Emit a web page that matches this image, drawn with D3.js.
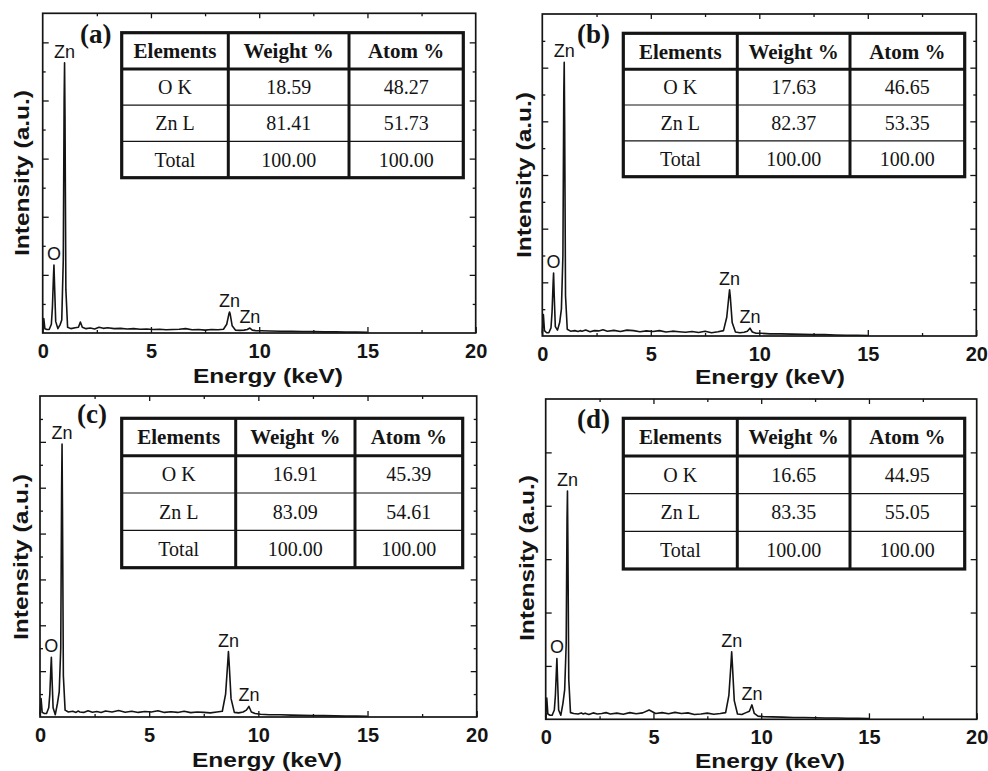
<!DOCTYPE html>
<html>
<head>
<meta charset="utf-8">
<script src="https://cdn.jsdelivr.net/npm/d3@7"></script>
<style>
  html, body { margin: 0; padding: 0; background: #fff; }
  svg { display: block; }
</style>
</head>
<body>
<svg id="chart" width="988" height="771"></svg>
<script>
// ---------------- DATA ----------------
const energyKeV = [0, 0.05, 0.1, 0.2, 0.3, 0.4, 0.45, 0.5, 0.52, 0.55, 0.6, 0.7, 0.8, 0.88, 0.95, 0.99, 1.01, 1.03, 1.07, 1.15,
  1.3, 1.5, 1.65, 1.74, 1.83, 2.0, 2.2, 2.4, 2.6, 2.8, 3.0, 3.3, 3.6, 3.9, 4.2, 4.5, 4.8, 5.1, 5.4, 5.7,
  6.0, 6.3, 6.6, 6.9, 7.2, 7.5, 7.8, 8.1, 8.35, 8.5, 8.6, 8.63, 8.66, 8.75, 8.9, 9.1, 9.3, 9.45, 9.57, 9.68,
  9.85, 10.1, 10.5, 11.0, 11.5, 12.0, 12.5, 13.0, 13.5, 14.0, 14.5, 15.0];

const intensityA = [0.1, 0.5, 0.15, 0.12, 0.12, 0.3, 0.9, 2.0, 2.34, 1.6,
  0.4, 0.15, 0.28, 0.45, 2.5, 8.0, 9.3, 7.5, 1.5, 0.2,
  0.15, 0.18, 0.2, 0.38, 0.2, 0.15, 0.17, 0.14, 0.2, 0.16,
  0.18, 0.15, 0.16, 0.14, 0.15, 0.13, 0.14, 0.12, 0.13, 0.11,
  0.12, 0.13, 0.15, 0.11, 0.12, 0.1, 0.12, 0.11, 0.13, 0.3,
  0.65, 0.72, 0.65, 0.25, 0.1, 0.09, 0.1, 0.12, 0.17, 0.1,
  0.08, 0.08, 0.07, 0.06, 0.06, 0.05, 0.05, 0.04, 0.04, 0.03,
  0.03, 0.02];

const intensityB = [0.1, 0.8, 0.2, 0.12, 0.12, 0.3, 0.9, 2.0, 2.35, 1.5,
  0.35, 0.22, 0.5, 1.0, 3.0, 9.0, 10.2, 8.0, 1.5, 0.25,
  0.18, 0.2, 0.17, 0.2, 0.18, 0.22, 0.16, 0.2, 0.19, 0.23,
  0.18, 0.21, 0.17, 0.22, 0.2, 0.16, 0.19, 0.17, 0.2, 0.15,
  0.18, 0.16, 0.14, 0.17, 0.13, 0.18, 0.12, 0.16, 0.2, 0.7,
  1.5, 1.72, 1.5, 0.5, 0.15, 0.12, 0.14, 0.18, 0.29, 0.15,
  0.1, 0.1, 0.08, 0.08, 0.07, 0.06, 0.05, 0.05, 0.04, 0.03,
  0.03, 0.02];

const intensityC = [0.1, 0.8, 0.2, 0.15, 0.15, 0.4, 1.0, 2.2, 2.6, 1.7,
  0.4, 0.1, 0.6, 1.1, 3.0, 10.0, 11.9, 9.0, 1.8, 0.3,
  0.22, 0.25, 0.2, 0.26, 0.22, 0.2, 0.27, 0.21, 0.24, 0.2,
  0.26, 0.22, 0.28, 0.21, 0.25, 0.2, 0.24, 0.22, 0.27, 0.2,
  0.23, 0.2, 0.25, 0.19, 0.22, 0.2, 0.18, 0.22, 0.25, 1.0,
  2.4, 2.85, 2.4, 0.8, 0.2, 0.18, 0.22, 0.3, 0.46, 0.22,
  0.15, 0.12, 0.1, 0.1, 0.08, 0.07, 0.06, 0.06, 0.05, 0.04,
  0.04, 0.03];

const intensityD = [0.1, 0.8, 0.2, 0.15, 0.15, 0.35, 0.9, 1.9, 2.28, 1.5,
  0.35, 0.15, 0.6, 1.1, 2.8, 7.5, 8.55, 6.5, 1.5, 0.25,
  0.22, 0.2, 0.24, 0.2, 0.23, 0.18, 0.24, 0.2, 0.22, 0.25,
  0.2, 0.23, 0.19, 0.25, 0.21, 0.24, 0.35, 0.22, 0.25, 0.21,
  0.26, 0.22, 0.24, 0.18, 0.2, 0.23, 0.19, 0.22, 0.25, 0.9,
  2.1, 2.53, 2.1, 0.7, 0.2, 0.18, 0.25, 0.3, 0.54, 0.22,
  0.12, 0.1, 0.09, 0.08, 0.07, 0.07, 0.06, 0.05, 0.05, 0.04,
  0.04, 0.03];

const panelLetters = ["(a)", "(b)", "(c)", "(d)"];
const yMaxValues = [11, 12, 14, 12];

const peakNames = ["O", "Zn", "Zn", "Zn"];
const peakEnergies = [0.52, 1.01, 8.63, 9.57];

const tableHeader = ["Elements", "Weight %", "Atom %"];
const elementNames = ["O K", "Zn L", "Total"];
const weightA = ["18.59", "81.41", "100.00"];
const atomA = ["48.27", "51.73", "100.00"];
const weightB = ["17.63", "82.37", "100.00"];
const atomB = ["46.65", "53.35", "100.00"];
const weightC = ["16.91", "83.09", "100.00"];
const atomC = ["45.39", "54.61", "100.00"];
const weightD = ["16.65", "83.35", "100.00"];
const atomD = ["44.95", "55.05", "100.00"];

const xMajorTicks = [0, 5, 10, 15, 20];
const xMinorTicks = [2.5, 7.5, 12.5, 17.5];
const xAxisTitle = "Energy (keV)";
const yAxisTitle = "Intensity (a.u.)";

// ---------------- LAYOUT ----------------
const layouts = [
  { box: {l: 42.7, r: 475.7, t: 13.3, b: 333}, table: {x0: 121.7, x1: 463.3, y0: 32.7, y1: 177.7, c1: 228.3, c2: 349},
    letter: [80, 43], ylab: [29, 173], xlab: [268, 383], minorY: true },
  { box: {l: 542.3, r: 976.3, t: 14, b: 336}, table: {x0: 623.3, x1: 964.7, y0: 33.3, y1: 176.7, c1: 737.3, c2: 850},
    letter: [577, 43], ylab: [531, 175], xlab: [770, 384], minorY: true },
  { box: {l: 40, r: 476.7, t: 396, b: 717}, table: {x0: 121.7, x1: 462.7, y0: 418.3, y1: 567.7, c1: 235.7, c2: 355},
    letter: [77, 423], ylab: [28, 557], xlab: [267, 767], minorY: true },
  { box: {l: 545.7, r: 976.7, t: 399, b: 719.3}, table: {x0: 623.3, x1: 964.7, y0: 418.3, y1: 569, c1: 737.3, c2: 850},
    letter: [577, 428], ylab: [534, 558], xlab: [770, 768], minorY: false }
];

const seriesList = [intensityA, intensityB, intensityC, intensityD];
const weightList = [weightA, weightB, weightC, weightD];
const atomList = [atomA, atomB, atomC, atomD];

const SANS = "'Liberation Sans', Arial, sans-serif";
const SERIF = "'Liberation Serif', 'Times New Roman', serif";
const INK = "#141414";

const svg = d3.select("#chart");

layouts.forEach((L, i) => {
  const series = seriesList[i];
  const yMax = yMaxValues[i];
  const x = d3.scaleLinear().domain([0, 20]).range([L.box.l, L.box.r]);
  const y = d3.scaleLinear().domain([0, yMax]).range([L.box.b, L.box.t]);
  const g = svg.append("g");

  // spectrum
  const pts = energyKeV.map((e, k) => [e, series[k]]);
  g.append("path")
    .datum(pts)
    .attr("fill", "none")
    .attr("stroke", INK)
    .attr("stroke-width", 1.6)
    .attr("stroke-linejoin", "round")
    .attr("d", d3.line().x(d => x(d[0])).y(d => y(d[1])));

  // axes (inward ticks)
  const styleAxis = sel => {
    sel.select(".domain").remove();
    sel.selectAll(".tick line").attr("stroke", INK).attr("stroke-width", 1.3);
  };
  const bottom = g.append("g").attr("transform", `translate(0,${L.box.b})`)
    .call(d3.axisBottom(x).tickValues(xMajorTicks).tickSize(-6).tickPadding(11).tickFormat(d3.format("d")))
    .call(styleAxis);
  bottom.selectAll("text").attr("font-family", SANS).attr("font-weight", "bold")
    .attr("font-size", 20).attr("fill", INK);
  g.append("g").attr("transform", `translate(0,${L.box.b})`)
    .call(d3.axisBottom(x).tickValues(xMinorTicks).tickSize(-3).tickFormat(""))
    .call(styleAxis);
  g.append("g").attr("transform", `translate(0,${L.box.t})`)
    .call(d3.axisTop(x).tickValues(xMajorTicks.slice(1, -1)).tickSize(-5).tickFormat(""))
    .call(styleAxis);
  g.append("g").attr("transform", `translate(0,${L.box.t})`)
    .call(d3.axisTop(x).tickValues(xMinorTicks).tickSize(-3).tickFormat(""))
    .call(styleAxis);

  const majorY = d3.range(2, yMax, 2);
  const minorY = d3.range(1, yMax, 2);
  [["left", d3.axisLeft, L.box.l], ["right", d3.axisRight, L.box.r]].forEach(([side, axisFn, pos]) => {
    g.append("g").attr("transform", `translate(${pos},0)`)
      .call(axisFn(y).tickValues(majorY).tickSize(-6).tickFormat(""))
      .call(styleAxis);
    if (L.minorY) {
      g.append("g").attr("transform", `translate(${pos},0)`)
        .call(axisFn(y).tickValues(minorY).tickSize(-3).tickFormat(""))
        .call(styleAxis);
    }
  });

  // frame
  g.append("rect")
    .attr("x", L.box.l).attr("y", L.box.t)
    .attr("width", L.box.r - L.box.l).attr("height", L.box.b - L.box.t)
    .attr("fill", "none").attr("stroke", INK).attr("stroke-width", 1.7);

  // axis titles
  g.append("text")
    .attr("x", L.xlab[0]).attr("y", L.xlab[1])
    .attr("text-anchor", "middle")
    .attr("font-family", SANS).attr("font-weight", "bold").attr("font-size", 21)
    .attr("textLength", 150).attr("lengthAdjust", "spacingAndGlyphs")
    .attr("fill", INK)
    .text(xAxisTitle);
  g.append("text")
    .attr("transform", `translate(${L.ylab[0]},${L.ylab[1]}) rotate(-90)`)
    .attr("text-anchor", "middle")
    .attr("font-family", SANS).attr("font-weight", "bold").attr("font-size", 21)
    .attr("textLength", 166).attr("lengthAdjust", "spacingAndGlyphs")
    .attr("fill", INK)
    .text(yAxisTitle);

  // peak labels
  peakEnergies.forEach((e, k) => {
    const idx = energyKeV.indexOf(e);
    g.append("text")
      .attr("x", x(e))
      .attr("y", y(series[idx]) - 5)
      .attr("text-anchor", "middle")
      .attr("font-family", SANS).attr("font-size", 18)
      .attr("fill", INK)
      .text(peakNames[k]);
  });

  // panel letter
  g.append("text")
    .attr("x", L.letter[0]).attr("y", L.letter[1])
    .attr("font-family", SERIF).attr("font-weight", "bold").attr("font-size", 27)
    .attr("fill", INK)
    .text(panelLetters[i]);

  // table
  const T = L.table;
  const colEdges = [T.x0, T.c1, T.c2, T.x1];
  const rowScale = d3.scaleLinear().domain([0, 4]).range([T.y0, T.y1]);
  const tg = g.append("g");
  tg.append("rect").attr("x", T.x0).attr("y", T.y0)
    .attr("width", T.x1 - T.x0).attr("height", T.y1 - T.y0).attr("fill", "#fff");
  [2, 3].forEach(r => {
    tg.append("line").attr("x1", T.x0).attr("x2", T.x1)
      .attr("y1", rowScale(r)).attr("y2", rowScale(r))
      .attr("stroke", INK).attr("stroke-width", 1.2);
  });
  tg.append("line").attr("x1", T.x0).attr("x2", T.x1)
    .attr("y1", rowScale(1)).attr("y2", rowScale(1))
    .attr("stroke", INK).attr("stroke-width", 3);
  [T.c1, T.c2].forEach(cx => {
    tg.append("line").attr("x1", cx).attr("x2", cx)
      .attr("y1", T.y0).attr("y2", T.y1)
      .attr("stroke", INK).attr("stroke-width", 3);
  });
  tg.append("rect").attr("x", T.x0).attr("y", T.y0)
    .attr("width", T.x1 - T.x0).attr("height", T.y1 - T.y0)
    .attr("fill", "none").attr("stroke", INK).attr("stroke-width", 3.2);

  const rows = [tableHeader,
    [elementNames[0], weightList[i][0], atomList[i][0]],
    [elementNames[1], weightList[i][1], atomList[i][1]],
    [elementNames[2], weightList[i][2], atomList[i][2]]];
  rows.forEach((row, r) => {
    row.forEach((cell, c) => {
      tg.append("text")
        .attr("x", (colEdges[c] + colEdges[c + 1]) / 2)
        .attr("y", (rowScale(r) + rowScale(r + 1)) / 2)
        .attr("dy", "0.35em")
        .attr("text-anchor", "middle")
        .attr("font-family", SERIF)
        .attr("font-weight", r === 0 ? "bold" : "normal")
        .attr("font-size", r === 0 ? 21 : 20)
        .attr("fill", INK)
        .text(cell);
    });
  });
});
</script>
</body>
</html>
